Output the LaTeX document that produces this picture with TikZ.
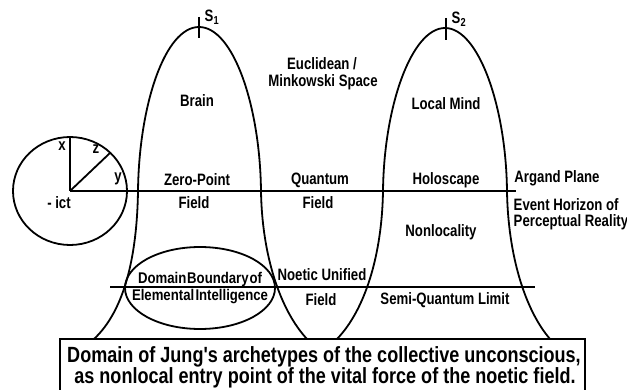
\documentclass[tikz,border=0pt]{standalone}
\usepackage{fontspec}
\setmainfont{Liberation Sans}
\newfontfamily\plainlib{Liberation Sans}
\begin{document}
\begin{tikzpicture}[x=1pt,y=-1pt,line width=1.8pt,
  lbl/.style={font=\fontsize{16.5}{18}\selectfont\bfseries,inner sep=0pt,xscale=0.8},
  small/.style={font=\fontsize{15.5}{17}\selectfont\bfseries,inner sep=0pt,xscale=0.85},
  boxtxt/.style={font=\plainlib\fontsize{22}{24}\selectfont\bfseries,inner sep=0pt,xscale=0.82,anchor=base}]
\useasboundingbox (0,0) rectangle (627,390);
% coordinates
\coordinate (o) at (70,191);
\coordinate (otop) at (70,137);
\coordinate (odiag) at (110,153);
\coordinate (lineR) at (516,191);
\coordinate (l2L) at (110,287);
\coordinate (l2R) at (535,287);
\coordinate (aL) at (138,191);
\coordinate (aR) at (261,191);
\coordinate (aTop) at (199,27);
\coordinate (bL) at (383,191);
\coordinate (bR) at (507,191);
\coordinate (bTop) at (445,28);
% space-time circle
\draw (o) ellipse [x radius=57pt,y radius=54pt];
\draw (o) -- (otop);
\draw (o) -- (odiag);
\draw (o) -- (lineR);
\draw (l2L) -- (l2R);
% arch S1
\draw (aL) .. controls (139,105) and (165,27) .. (aTop) .. controls (233,27) and (260,105) .. (aR);
\draw (aL) .. controls (137,255) and (125,310) .. (94,339);
\draw (aR) .. controls (262,255) and (280,310) .. (307,339);
\draw (199,17) -- (199,38);
% arch S2
\draw (bL) .. controls (384,105) and (412,28) .. (bTop) .. controls (478,28) and (506,105) .. (bR);
\draw (bL) .. controls (382,255) and (365,310) .. (337,339);
\draw (bR) .. controls (508,255) and (525,310) .. (550,339);
\draw (446,18) -- (446,40);
% ellipse
\draw (200,288) ellipse [x radius=75pt,y radius=41pt];
% box
\draw (60,392) -- (60,339) -- (585,339) -- (585,392);
% labels
\node[lbl,anchor=south west] (s1) at (204,25) {S\textsubscript{1}};
\node[lbl,anchor=south west] (s2) at (451,27) {S\textsubscript{2}};
\node[lbl] (x) at (62,146) {x};
\node[lbl] (z) at (96,149) {z};
\node[lbl] (y) at (118,179) {y};
\node[lbl] (ict) at (59,203) {- ict};
\node[lbl] (brain) at (197,101) {Brain};
\node[lbl] (eu1) at (322,64) {Euclidean /};
\node[lbl] (eu2) at (323,82) {Minkowski Space};
\node[lbl] (lm) at (446,104) {Local Mind};
\node[lbl] (zp) at (197,180) {Zero-Point};
\node[lbl] (f1) at (194,203) {Field};
\node[lbl] (qu) at (320,180) {Quantum};
\node[lbl] (f2) at (318,203) {Field};
\node[lbl] (ho) at (446,180) {Holoscape};
\node[lbl] (ar) at (557,178) {Argand Plane};
\node[lbl,anchor=west] (ev) at (513,205) {Event Horizon of};
\node[lbl,anchor=west] (pr) at (513,222) {Perceptual Reality};
\node[lbl] (nl) at (441,232) {Nonlocality};
\node[lbl] (nu) at (322,275) {Noetic Unified};
\node[lbl] (f3) at (321,300) {Field};
\node[lbl] (sq) at (445,300) {Semi-Quantum Limit};
\node[small] (db) at (200,279) {Domain\hspace{1pt}Boundary\hspace{1pt}of};
\node[small] (ei) at (200,297) {Elemental\hspace{1.5pt}Intelligence};
\node[boxtxt] (b1) at (324,362) {Domain of Jung's archetypes of the collective unconscious,};
\node[boxtxt] (b2) at (325,383) {as nonlocal entry point of the vital force of the noetic field.};
\end{tikzpicture}
\end{document}
